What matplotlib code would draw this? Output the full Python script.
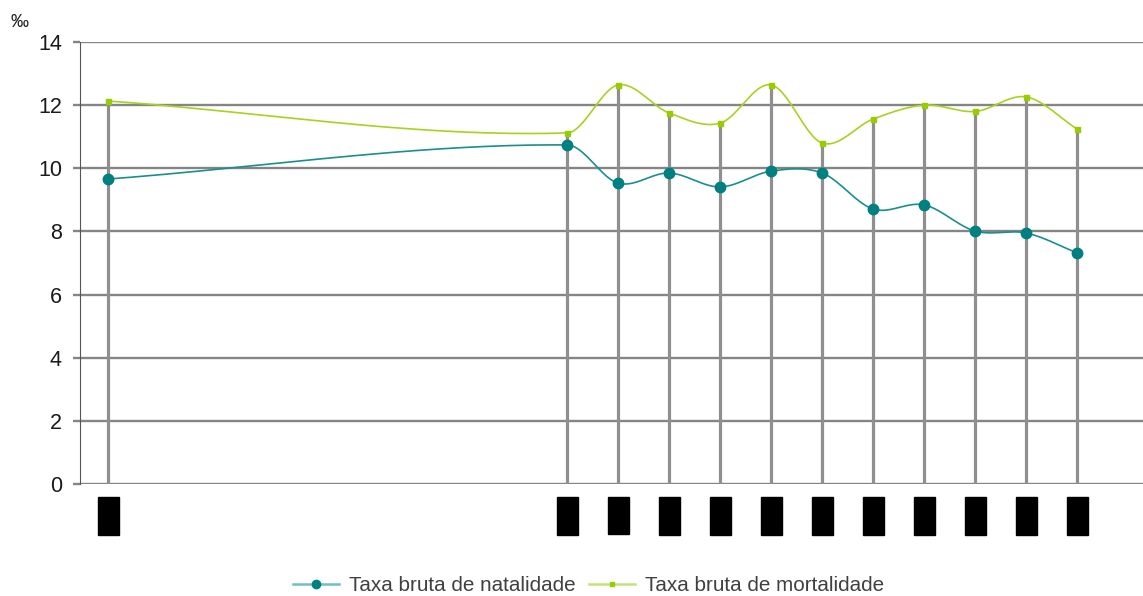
import numpy as np
import matplotlib
matplotlib.use("Agg")
import matplotlib.pyplot as plt
from matplotlib.lines import Line2D

plt.rcParams['font.family'] = ['Liberation Sans', 'DejaVu Sans']

years = [2001, 2010, 2011, 2012, 2013, 2014, 2015, 2016, 2017, 2018, 2019, 2020]
natalidade = [9.66, 10.74, 9.53, 9.85, 9.41, 9.91, 9.85, 8.71, 8.84, 8.01, 7.95, 7.32]
mortalidade = [12.13, 11.12, 12.64, 11.75, 11.43, 12.64, 10.80, 11.56, 12.00, 11.80, 12.26, 11.24]
yticks = [0, 2, 4, 6, 8, 10, 12, 14]
label_nat = "Taxa bruta de natalidade"
label_mort = "Taxa bruta de mortalidade"
unit = "‰"


def smooth(x, y, n=40):
    """Smoothed line: cubic Hermite with Catmull-Rom slopes (handles uneven spacing)."""
    x = np.asarray(x, float)
    y = np.asarray(y, float)
    m = np.empty_like(y)
    m[1:-1] = (y[2:] - y[:-2]) / (x[2:] - x[:-2])
    m[0] = (y[1] - y[0]) / (x[1] - x[0])
    m[-1] = (y[-1] - y[-2]) / (x[-1] - x[-2])
    xs, ys = [], []
    for i in range(len(x) - 1):
        h = x[i + 1] - x[i]
        t = np.linspace(0, 1, n)
        h00 = 2 * t ** 3 - 3 * t ** 2 + 1
        h10 = t ** 3 - 2 * t ** 2 + t
        h01 = -2 * t ** 3 + 3 * t ** 2
        h11 = t ** 3 - t ** 2
        yy = h00 * y[i] + h10 * h * m[i] + h01 * y[i + 1] + h11 * h * m[i + 1]
        xx = x[i] + t * h
        if i > 0:
            xx, yy = xx[1:], yy[1:]
        xs.append(xx)
        ys.append(yy)
    return np.concatenate(xs), np.concatenate(ys)


fig = plt.figure(figsize=(11.43, 5.96), dpi=100)
ax = fig.add_axes([80 / 1143, 112 / 596, 1 - 80 / 1143, 442 / 596])

grid_c = '#858585'
ax.set_ylim(0, 14)
ax.set_xlim(2000.45, 2021.29)
ax.set_yticks(yticks)
for v in yticks:
    ax.axhline(v, color=grid_c, lw=1.7, zorder=1)

tops = [max(a, b) for a, b in zip(natalidade, mortalidade)]
ax.vlines(years, 0, tops, color='#8f8f8f', lw=2.3, zorder=2)

xs, ys = smooth(years, mortalidade)
ax.plot(xs, ys, color='#a8d21e', lw=1.2, zorder=3)
ax.plot(years, mortalidade, ls='none', marker='s', ms=3.6, color='#99cc00', zorder=4)

xs, ys = smooth(years, natalidade)
ax.plot(xs, ys, color='#1a8f8f', lw=1.2, zorder=3)
ax.plot(years, natalidade, ls='none', marker='o', ms=7.5, color='#008080', zorder=4)

for s in ['top', 'right', 'bottom']:
    ax.spines[s].set_visible(False)
ax.spines['left'].set_color('#555555')
ax.spines['left'].set_linewidth(0.8)

ax.tick_params(axis='y', length=5, width=1.7, color=grid_c, pad=8, labelsize=15.5,
               labelcolor='#1a1a1a')
ax.set_xticks(years)
ax.set_xticklabels([str(y) for y in years], rotation=90, fontsize=10, color='black')
for t in ax.get_xticklabels():
    t.set_bbox(dict(facecolor='black', edgecolor='black', boxstyle='square,pad=0.25'))
ax.tick_params(axis='x', length=0, pad=11.9)

fig.text(0.009, 0.962, unit, fontsize=13, color='#1a1a1a', ha='left', va='center')

handles = [
    Line2D([0], [0], color='#6fc0c0', lw=1.8, marker='o', ms=6, mfc='#008080', mec='#008080'),
    Line2D([0], [0], color='#c5e378', lw=1.8, marker='s', ms=3.5, mfc='#99cc00', mec='#99cc00'),
]
fig.legend(handles, [label_nat, label_mort], loc='center', bbox_to_anchor=(0.515, 0.017),
           ncol=2, frameon=False, fontsize=14.9, handlelength=2.2, columnspacing=0.65,
           handletextpad=0.5, labelcolor='#404040', borderpad=0.2)

fig.savefig('out.png', dpi=100)
